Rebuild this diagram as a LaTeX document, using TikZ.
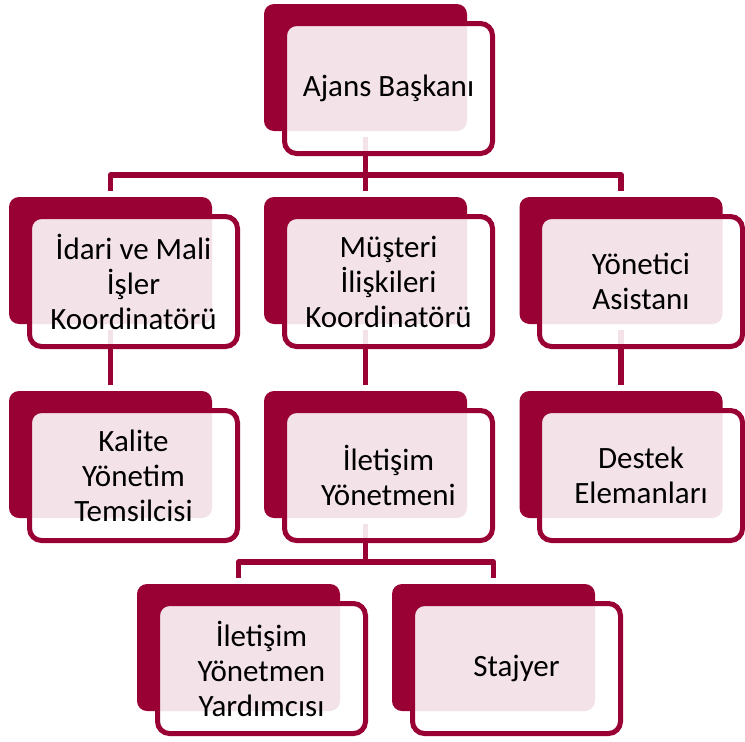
\documentclass[tikz,border=0pt]{standalone}
\usepackage{fontspec}
\setmainfont{Carlito}
\usetikzlibrary{calc}
\definecolor{brandred}{HTML}{990033}
\begin{document}
\begin{tikzpicture}[x=1pt,y=-1pt,
  backbox/.style={fill=brandred, draw=none, rounded corners=10pt, minimum width=203pt, minimum height=127pt, inner sep=0pt},
  frontbox/.style={draw=brandred, line width=5pt, fill=white, fill opacity=0.89, draw opacity=1, text opacity=1, rounded corners=12pt, minimum width=208pt, minimum height=130pt, inner sep=0pt, align=center, text=black, font=\fontsize{31}{35}\selectfont},
  conn/.style={draw=brandred, line width=5.5pt, line join=round}]
\useasboundingbox (0,0) rectangle (745,742);
% back boxes
\node[backbox] (A)  at (365.5,67.5) {};
\node[backbox] (B1) at (110.5,260.5) {};
\node[backbox] (B2) at (365.5,260.5) {};
\node[backbox] (B3) at (621,260.5) {};
\node[backbox] (C1) at (110.5,454.5) {};
\node[backbox] (C2) at (365.5,454.5) {};
\node[backbox] (C3) at (621,454.5) {};
\node[backbox] (D1) at (238.5,647.5) {};
\node[backbox] (D2) at (493.5,647.5) {};
% connectors
\coordinate (busA) at (365.5,175);
\coordinate (busC) at (365.5,562);
\draw[conn] ($(A.south)+(0,6)$) -- ($(B2.north)+(0,-6)$);
\draw[conn] ($(B1.north)+(0,-6)$) |- (busA) -| ($(B3.north)+(0,-6)$);
\draw[conn] ($(B1.south)+(0,6)$) -- ($(C1.north)+(0,-6)$);
\draw[conn] ($(B2.south)+(0,6)$) -- ($(C2.north)+(0,-6)$);
\draw[conn] ($(B3.south)+(0,6)$) -- ($(C3.north)+(0,-6)$);
\draw[conn] ($(C2.south)+(0,6)$) -- (busC);
\draw[conn] ($(D1.north)+(0,-6)$) |- (busC) -| ($(D2.north)+(0,-6)$);
% front boxes
\node[frontbox] (Af)  at ($(A)+(23,21)$)  {Ajans Başkanı};
\node[frontbox] (B1f) at ($(B1)+(23,21)$) {İdari ve Mali\\İşler\\Koordinatörü};
\node[frontbox] (B2f) at ($(B2)+(23,21)$) {Müşteri\\İlişkileri\\Koordinatörü};
\node[frontbox, minimum width=203pt] (B3f) at ($(B3)+(20,21)$) {Yönetici\\Asistanı};
\node[frontbox] (C1f) at ($(C1)+(23,21)$) {Kalite\\Yönetim\\Temsilcisi};
\node[frontbox] (C2f) at ($(C2)+(23,21)$) {İletişim\\Yönetmeni};
\node[frontbox, minimum width=203pt] (C3f) at ($(C3)+(20,21)$) {Destek\\Elemanları};
\node[frontbox] (D1f) at ($(D1)+(23,21)$) {İletişim\\Yönetmen\\Yardımcısı};
\node[frontbox] (D2f) at ($(D2)+(23,21)$) {Stajyer};
\end{tikzpicture}
\end{document}
